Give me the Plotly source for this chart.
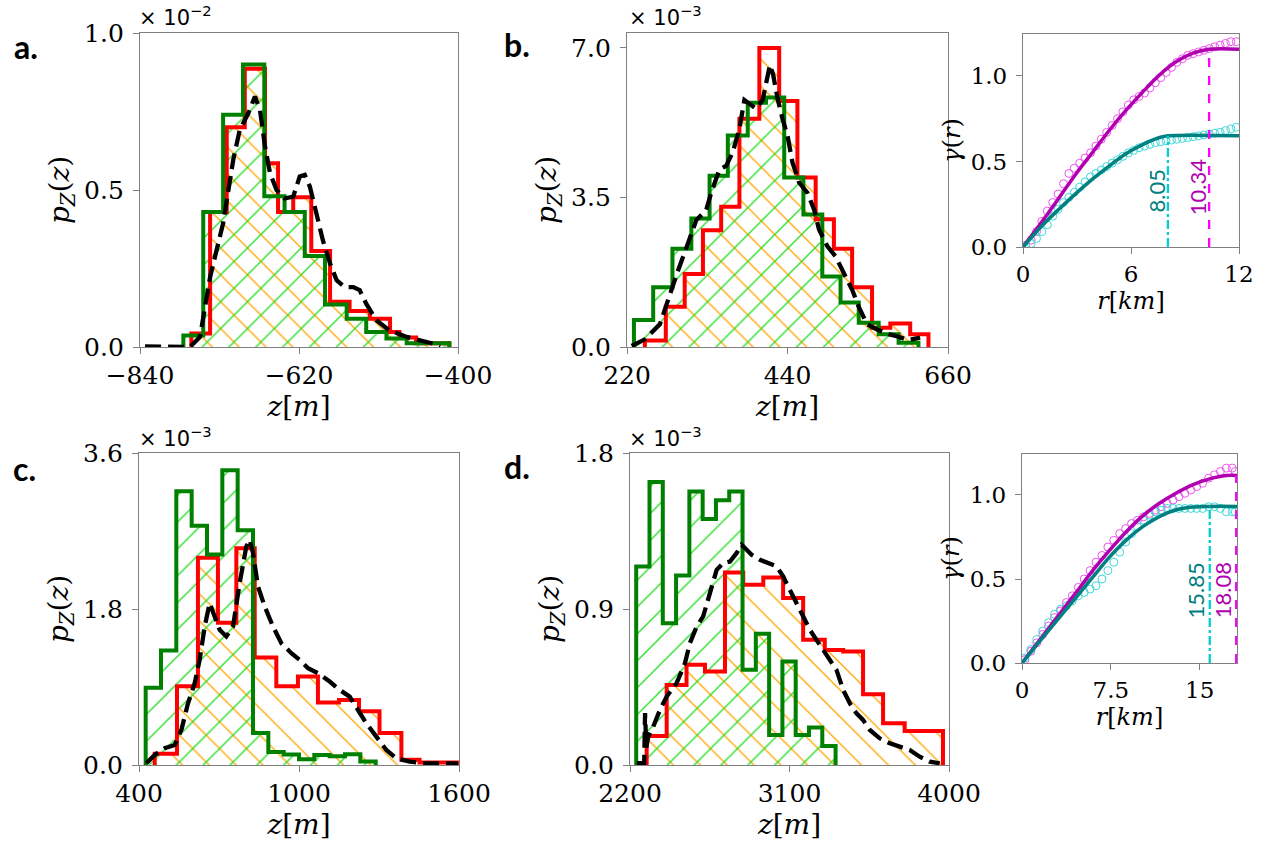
import plotly.graph_objects as go

# ---------------- data ----------------
# panel a (values x 1e-2)
a_green_edges = [-780, -752.5, -725, -697.5, -668, -640, -612, -584, -554, -527, -499, -471, -412]
a_green_h = [0.037, 0.43, 0.74, 0.90, 0.48, 0.43, 0.29, 0.135, 0.09, 0.048, 0.027, 0.012]
a_red_edges = [-769, -743, -720, -695, -667, -649, -628, -603, -577, -550, -522, -494, -481, -458, -412]
a_red_h = [0.043, 0.43, 0.70, 0.886, 0.585, 0.43, 0.477, 0.306, 0.144, 0.115, 0.09, 0.048, 0.03, 0.012]
a_kde_z = [-833, -771, -757, -743, -725, -711, -702, -690, -681, -674, -667, -660, -651, -640, -628, -619,
           -612, -605, -596, -587, -577, -568, -557, -545, -536, -527, -513, -495, -471, -453, -435, -425]
a_kde_p = [0.002, 0.0, 0.032, 0.223, 0.394, 0.596, 0.691, 0.745, 0.798, 0.755, 0.638, 0.553, 0.500, 0.473,
           0.479, 0.543, 0.548, 0.511, 0.426, 0.340, 0.266, 0.213, 0.191, 0.191, 0.181, 0.138, 0.085, 0.053,
           0.032, 0.021, 0.011, 0.0]

# panel b (values x 1e-3)
b_green_edges = [229.5, 255.9, 282.3, 308.2, 333.2, 358.2, 385.5, 410.5, 435.5, 461.8, 487.7, 512.7, 537.7, 565.0, 592.3, 619.5]
b_green_h = [0.63, 1.40, 2.30, 3.01, 4.01, 4.95, 5.72, 5.84, 3.97, 3.10, 1.65, 1.04, 0.57, 0.30, 0.10]
b_red_edges = [244.5, 273.2, 299.1, 324.1, 349.1, 374.1, 401.4, 428.6, 453.6, 478.6, 503.6, 528.6, 555.9, 580.9, 608.2, 633.2]
b_red_h = [0.15, 0.94, 1.71, 2.73, 3.28, 5.34, 7.0, 5.76, 3.97, 2.99, 2.30, 1.40, 0.45, 0.55, 0.30]
b_kde_z = [226.4, 244.5, 265.0, 278.6, 290.0, 303.6, 315.0, 328.6, 335.4, 346.8, 355.9, 365.0, 374.1, 380.9,
           390.0, 396.8, 405.9, 410.4, 415.9, 420.4, 426.4, 433.2, 440.0, 446.8, 455.9, 467.3, 476.4, 483.2,
           494.5, 505.9, 519.5, 528.6, 537.7, 549.1, 562.7, 578.6, 592.2, 605.9, 621.8]
b_kde_p = [0.024, 0.18, 0.53, 1.24, 1.79, 2.43, 2.97, 3.21, 3.61, 4.16, 4.24, 4.56, 5.11, 5.78, 5.66, 5.58,
           5.78, 6.13, 6.60, 6.37, 5.81, 5.34, 4.95, 4.32, 3.85, 3.61, 3.22, 2.75, 2.36, 2.12, 1.65, 1.34,
           0.94, 0.53, 0.41, 0.30, 0.24, 0.16, 0.22]

# panel c (values x 1e-3)
c_green_edges = [425, 482.5, 540, 597.5, 655, 712.5, 770, 827.5, 885, 942.5, 1000, 1057.5, 1115, 1172.5, 1230, 1287.5]
c_green_h = [0.89, 1.32, 3.16, 2.76, 2.43, 3.40, 2.71, 0.37, 0.15, 0.12, 0.065, 0.115, 0.10, 0.125, 0.04]
c_red_edges = [459, 542.5, 621, 696, 765, 834, 915, 996, 1071, 1150, 1225, 1302, 1384, 1452, 1600]
c_red_h = [0.13, 0.91, 2.39, 1.64, 2.50, 1.24, 0.91, 1.02, 0.72, 0.75, 0.62, 0.37, 0.06, 0.03]
c_kde_z = [427.5, 458.8, 496.3, 533.8, 558.8, 583.8, 608.8, 627.5, 646.3, 665, 683.8, 702.5, 727.5, 752.5,
           777.5, 802.5, 815, 827.5, 846.3, 871.3, 902.5, 933.8, 971.3, 1002.5, 1033.8, 1071.3, 1115, 1152.5,
           1190, 1221.3, 1252.5, 1290, 1327.5, 1365, 1415, 1465, 1527.5, 1596]
c_kde_p = [0.019, 0.116, 0.193, 0.231, 0.404, 0.712, 0.943, 1.213, 1.598, 1.868, 1.714, 1.56, 1.483, 1.598,
           2.098, 2.522, 2.60, 2.445, 2.06, 1.829, 1.598, 1.405, 1.29, 1.213, 1.117, 1.059, 0.963, 0.866,
           0.789, 0.635, 0.481, 0.327, 0.173, 0.077, 0.039, 0.019, 0.019, 0.019]

# panel d (values x 1e-3)
d_green_edges = [2235, 2310, 2385, 2460, 2535, 2610, 2685, 2760, 2835, 2910, 2985, 3060, 3135, 3210, 3285, 3360]
d_green_h = [1.145, 1.632, 0.818, 1.093, 1.578, 1.419, 1.527, 1.578, 0.549, 0.757, 0.173, 0.597, 0.173, 0.216, 0.11]
d_red_edges = [2294, 2407, 2519, 2623, 2736, 2839, 2952, 3064, 3177, 3299, 3403, 3515, 3628, 3750, 3966]
d_red_h = [0.167, 0.462, 0.578, 0.539, 1.111, 1.04, 1.082, 0.963, 0.722, 0.664, 0.655, 0.408, 0.241, 0.196]
d_kde_z = [2238, 2266, 2280, 2285, 2292, 2303, 2331, 2369, 2407, 2463, 2510, 2538, 2576, 2613, 2651, 2689,
           2726, 2764, 2801, 2830, 2858, 2886, 2933, 2989, 3027, 3064, 3102, 3140, 3177, 3215, 3252, 3290,
           3327, 3365, 3403, 3440, 3478, 3515, 3553, 3609, 3666, 3722, 3778, 3835, 3891, 3948]
d_kde_p = [0.01, 0.01, 0.01, 0.30, 0.10, 0.164, 0.221, 0.318, 0.395, 0.472, 0.587, 0.703, 0.799, 0.857,
           0.991, 1.126, 1.165, 1.174, 1.222, 1.271, 1.242, 1.213, 1.184, 1.165, 1.146, 1.088, 1.011, 0.934,
           0.857, 0.780, 0.722, 0.664, 0.607, 0.549, 0.433, 0.356, 0.298, 0.260, 0.202, 0.154, 0.125, 0.106,
           0.087, 0.048, 0.019, 0.01]

# variogram inset 1
v1_r = [0.15, 0.45, 0.75, 1.05, 1.35, 1.65, 1.95, 2.25, 2.55, 2.85, 3.15, 3.45, 3.75, 4.05, 4.35, 4.65, 4.95,
        5.25, 5.55, 5.85, 6.15, 6.45, 6.75, 7.05, 7.35, 7.65, 7.95, 8.25, 8.55, 8.85, 9.15, 9.45, 9.75, 10.05,
        10.35, 10.65, 10.95, 11.25, 11.55, 11.85]
v1_mag = [0.01, 0.04, 0.09, 0.15, 0.21, 0.26, 0.31, 0.37, 0.43, 0.46, 0.49, 0.52, 0.55, 0.59, 0.63, 0.67, 0.71,
          0.75, 0.79, 0.83, 0.86, 0.88, 0.90, 0.93, 0.96, 0.99, 1.02, 1.05, 1.08, 1.10, 1.12, 1.13, 1.14, 1.15,
          1.16, 1.17, 1.18, 1.19, 1.20, 1.20]
v1_teal = [0.005, 0.02, 0.05, 0.09, 0.13, 0.18, 0.22, 0.26, 0.29, 0.32, 0.35, 0.38, 0.41, 0.43, 0.45, 0.47, 0.49,
           0.51, 0.53, 0.55, 0.565, 0.58, 0.59, 0.60, 0.61, 0.615, 0.62, 0.625, 0.63, 0.635, 0.64, 0.645, 0.65,
           0.655, 0.66, 0.665, 0.67, 0.68, 0.69, 0.70]
fit1_mag_r = [0, 1.11, 2.04, 2.96, 3.89, 4.81, 5.74, 6.67, 7.59, 8.52, 9.44, 10.34, 12]
fit1_mag_g = [0, 0.156, 0.293, 0.43, 0.557, 0.684, 0.801, 0.908, 1.006, 1.084, 1.133, 1.156, 1.156]
fit1_teal_r = [0, 1.11, 2.04, 2.96, 3.89, 4.81, 5.74, 6.67, 7.59, 8.05, 12]
fit1_teal_g = [0, 0.13, 0.225, 0.315, 0.40, 0.475, 0.547, 0.60, 0.64, 0.65, 0.65]
range1 = [8.05, 10.34]

# variogram inset 2
v2_r = [0.25, 0.75, 1.25, 1.75, 2.25, 2.75, 3.25, 3.75, 4.25, 4.75, 5.25, 5.75, 6.25, 6.75, 7.25, 7.75, 8.25,
        8.75, 9.25, 9.75, 10.25, 10.75, 11.25, 11.75, 12.25, 12.75, 13.25, 13.75, 14.25, 14.75, 15.25, 15.75,
        16.25, 16.75, 17.25, 17.75, 18.0]
v2_mag = [0.02, 0.07, 0.12, 0.17, 0.22, 0.27, 0.31, 0.36, 0.40, 0.45, 0.50, 0.55, 0.60, 0.64, 0.69, 0.73, 0.77,
          0.80, 0.83, 0.85, 0.87, 0.89, 0.91, 0.93, 0.95, 0.97, 0.99, 1.01, 1.03, 1.05, 1.07, 1.10, 1.12, 1.14,
          1.16, 1.16, 1.14]
v2_teal = [0.03, 0.08, 0.14, 0.19, 0.24, 0.29, 0.32, 0.34, 0.37, 0.40, 0.42, 0.44, 0.46, 0.50, 0.55, 0.60, 0.66,
           0.72, 0.77, 0.81, 0.85, 0.88, 0.90, 0.91, 0.92, 0.92, 0.92, 0.92, 0.92, 0.92, 0.92, 0.93, 0.93, 0.92,
           0.90, 0.90, 0.90]
fit2_mag_r = [0, 1.80, 3.20, 4.61, 6.01, 7.42, 8.82, 10.22, 11.63, 13.03, 14.44, 15.84, 17.25, 18.2]
fit2_mag_g = [0, 0.165, 0.295, 0.424, 0.554, 0.673, 0.783, 0.877, 0.952, 1.012, 1.062, 1.096, 1.116, 1.116]
fit2_teal_r = [0, 1.80, 3.20, 4.61, 6.01, 7.42, 8.82, 10.22, 11.63, 13.03, 14.44, 15.85, 18.2]
fit2_teal_g = [0, 0.155, 0.275, 0.394, 0.514, 0.633, 0.733, 0.813, 0.873, 0.912, 0.928, 0.932, 0.932]
range2 = [15.85, 18.08]

# ---------------- styling ----------------
W, H = 1268, 855
RED, GREEN = "#FF0000", "#008000"
ORANGE, LIME = "#FFA500", "#22DD22"
MAG_FIT, MAG_PT, MAG_V = "#B000B0", "#EE55EE", "#FF00FF"
TEAL_FIT, TEAL_PT, TEAL_V = "#008080", "#40D8D8", "#00CED1"
AX = "#808080"
SERIF = "DejaVu Serif"


def px_dom(x0, x1, y0, y1):
    return [x0 / W, x1 / W], [1 - y1 / H, 1 - y0 / H]


def step_xy(edges, heights):
    xs = [edges[0]] + list(edges)
    ys = [0] + list(heights) + [0]
    return xs, ys


fig = go.Figure()

panels = [
    ("a", a_red_edges, a_red_h, a_green_edges, a_green_h, a_kde_z, a_kde_p, "x", "y"),
    ("b", b_red_edges, b_red_h, b_green_edges, b_green_h, b_kde_z, b_kde_p, "x2", "y2"),
    ("c", c_red_edges, c_red_h, c_green_edges, c_green_h, c_kde_z, c_kde_p, "x4", "y4"),
    ("d", d_red_edges, d_red_h, d_green_edges, d_green_h, d_kde_z, d_kde_p, "x5", "y5"),
]

for key, re_, rh, ge, gh, kz, kp, xa, ya in panels:
    rx, ry = step_xy(re_, rh)
    gx, gy = step_xy(ge, gh)
    fig.add_trace(go.Scatter(x=rx, y=ry, mode="lines", line=dict(width=0, shape="hv"), fill="tozeroy",
                             fillcolor="rgba(0,0,0,0)",
                             fillpattern=dict(shape="\\", fgcolor=ORANGE, fgopacity=1, size=19, solidity=0.07),
                             xaxis=xa, yaxis=ya, hoverinfo="skip"))
    fig.add_trace(go.Scatter(x=gx, y=gy, mode="lines", line=dict(width=0, shape="hv"), fill="tozeroy",
                             fillcolor="rgba(0,0,0,0)",
                             fillpattern=dict(shape="/", fgcolor=LIME, fgopacity=1, size=19, solidity=0.07),
                             xaxis=xa, yaxis=ya, hoverinfo="skip"))
    fig.add_trace(go.Scatter(x=rx, y=ry, mode="lines", line=dict(width=4, color=RED, shape="hv"),
                             xaxis=xa, yaxis=ya))
    fig.add_trace(go.Scatter(x=gx, y=gy, mode="lines", line=dict(width=4, color=GREEN, shape="hv"),
                             xaxis=xa, yaxis=ya))
    fig.add_trace(go.Scatter(x=kz, y=kp, mode="lines", line=dict(width=4.3, color="black", dash="16px,7px"),
                             xaxis=xa, yaxis=ya))

insets = [
    (v1_r, v1_mag, v1_teal, fit1_mag_r, fit1_mag_g, fit1_teal_r, fit1_teal_g, range1, "x3", "y3"),
    (v2_r, v2_mag, v2_teal, fit2_mag_r, fit2_mag_g, fit2_teal_r, fit2_teal_g, range2, "x6", "y6"),
]
for vr, vm, vt, fmr, fmg, ftr, ftg, rng, xa, ya in insets:
    fig.add_trace(go.Scatter(x=vr, y=vm, mode="markers",
                             marker=dict(symbol="circle-open", size=8, color=MAG_PT, line=dict(width=1)),
                             xaxis=xa, yaxis=ya))
    fig.add_trace(go.Scatter(x=vr, y=vt, mode="markers",
                             marker=dict(symbol="circle-open", size=8, color=TEAL_PT, line=dict(width=1)),
                             xaxis=xa, yaxis=ya))
    fig.add_trace(go.Scatter(x=fmr, y=fmg, mode="lines", line=dict(width=3.5, color=MAG_FIT, shape="spline"),
                             xaxis=xa, yaxis=ya))
    fig.add_trace(go.Scatter(x=ftr, y=ftg, mode="lines", line=dict(width=3.5, color=TEAL_FIT, shape="spline"),
                             xaxis=xa, yaxis=ya))
    fig.add_trace(go.Scatter(x=[rng[0], rng[0]], y=[0, ftg[-1]], mode="lines",
                             line=dict(width=2.3, color=TEAL_V, dash="dashdot"), xaxis=xa, yaxis=ya))
    fig.add_trace(go.Scatter(x=[rng[1], rng[1]], y=[0, fmg[-1]], mode="lines",
                             line=dict(width=2.3, color=MAG_V, dash="dash"), xaxis=xa, yaxis=ya))


def ax_common(size=25):
    return dict(showline=True, linecolor=AX, linewidth=1.3, mirror=True, ticks="outside", ticklen=6,
                tickcolor=AX, tickwidth=1.3, showgrid=False, zeroline=False, automargin=False,
                tickfont=dict(family=SERIF, size=size, color="black"))


ztitle = dict(text="<i>z</i>[<i>m</i>]", font=dict(family=SERIF, size=28, color="black"), standoff=4)
ptitle = dict(text="<i>p</i><sub><i>Z</i></sub>(<i>z</i>)", font=dict(family=SERIF, size=28, color="black"),
              standoff=6)
rtitle = dict(text="<i>r</i>[<i>km</i>]", font=dict(family=SERIF, size=24, color="black"), standoff=2)
gtitle = dict(text="<i>γ</i>(<i>r</i>)", font=dict(family=SERIF, size=24, color="black"), standoff=3)

doms = {
    "1": px_dom(140, 458, 33, 347),
    "2": px_dom(627, 948, 33, 347),
    "3": px_dom(1023, 1239, 34, 247),
    "4": px_dom(139, 459, 453, 765),
    "5": px_dom(630, 949, 453, 765),
    "6": px_dom(1022, 1237, 454, 663),
}

layout = dict(width=W, height=H, margin=dict(l=0, r=0, t=0, b=0, autoexpand=False), plot_bgcolor="white",
              paper_bgcolor="white", showlegend=False)

specs = {
    "1": dict(xr=[-840, -400], xt=[-840, -620, -400], xl=["−840", "−620", "−400"], yr=[0, 1.0], yt=[0, 0.5, 1.0], yl=["0.0", "0.5", "1.0"], main=True),
    "2": dict(xr=[220, 660], xt=[220, 440, 660], xl=["220", "440", "660"], yr=[0, 7.35], yt=[0, 3.5, 7.0], yl=["0.0", "3.5", "7.0"], main=True),
    "3": dict(xr=[0, 12], xt=[0, 6, 12], xl=["0", "6", "12"], yr=[0, 1.245], yt=[0, 0.5, 1.0], yl=["0.0", "0.5", "1.0"], main=False),
    "4": dict(xr=[400, 1600], xt=[400, 1000, 1600], xl=["400", "1000", "1600"], yr=[0, 3.6], yt=[0, 1.8, 3.6], yl=["0.0", "1.8", "3.6"], main=True),
    "5": dict(xr=[2200, 4000], xt=[2200, 3100, 4000], xl=["2200", "3100", "4000"], yr=[0, 1.8], yt=[0, 0.9, 1.8], yl=["0.0", "0.9", "1.8"], main=True),
    "6": dict(xr=[0, 18.15], xt=[0, 7.5, 15], xl=["0", "7.5", "15"], yr=[0, 1.244], yt=[0, 0.5, 1.0], yl=["0.0", "0.5", "1.0"], main=False),
}

for k, s in specs.items():
    xd, yd = doms[k]
    xn = "xaxis" if k == "1" else "xaxis" + k
    yn = "yaxis" if k == "1" else "yaxis" + k
    anchor_x = "y" if k == "1" else "y" + k
    anchor_y = "x" if k == "1" else "x" + k
    fs = 25 if s["main"] else 23
    xa = ax_common(fs)
    xa.update(domain=xd, anchor=anchor_x, range=s["xr"], tickvals=s["xt"], ticktext=s["xl"],
              title=ztitle if s["main"] else rtitle)
    ya = ax_common(fs)
    ya.update(domain=yd, anchor=anchor_y, range=s["yr"], tickvals=s["yt"], ticktext=s["yl"],
              ticklabelstandoff=4, title=ptitle if s["main"] else gtitle)
    layout[xn] = xa
    layout[yn] = ya

fig.update_layout(**layout)

# exponent labels
for txt, xp, yp in [("× 10<sup>−2</sup>", 137, 16), ("× 10<sup>−3</sup>", 627, 16),
                    ("× 10<sup>−3</sup>", 137, 437), ("× 10<sup>−3</sup>", 627, 437)]:
    fig.add_annotation(x=xp / W, y=1 - yp / H, xref="paper", yref="paper", text=txt, showarrow=False,
                       xanchor="left", yanchor="middle", font=dict(family="DejaVu Sans", size=21, color="black"))

# panel letters
for txt, xp, yp in [("a.", 26, 47), ("b.", 517, 45), ("c.", 24, 468), ("d.", 517, 466)]:
    fig.add_annotation(x=xp / W, y=1 - yp / H, xref="paper", yref="paper", text="<b>" + txt + "</b>",
                       showarrow=False, xanchor="center", yanchor="middle",
                       font=dict(family="Lato", size=32, color="black"))

# range labels in insets
for txt, x, y, col, xa, ya in [("8.05", 7.44, 0.33, TEAL_FIT, "x3", "y3"),
                               ("10.34", 9.67, 0.35, MAG_FIT, "x3", "y3"),
                               ("15.85", 14.66, 0.43, TEAL_FIT, "x6", "y6"),
                               ("18.08", 16.93, 0.43, MAG_FIT, "x6", "y6")]:
    fig.add_annotation(x=x, y=y, xref=xa, yref=ya, text=txt, textangle=-90, showarrow=False,
                       xanchor="center", yanchor="middle", font=dict(family="Lato", size=22, color=col))

fig.write_html("out.html")
